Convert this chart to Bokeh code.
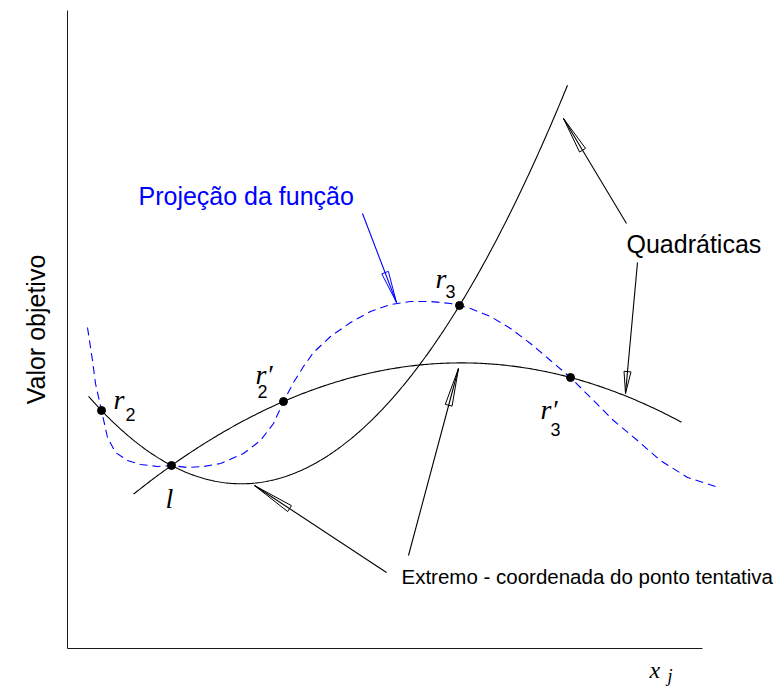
import numpy as np
from bokeh.plotting import figure
from bokeh.models import Range1d, ColumnDataSource
from bokeh.core.properties import value
from bokeh.embed import file_html
from bokeh.resources import INLINE

# Trial points (abscissa x_j, objective value), arbitrary units
point_names = ["r2", "l", "r3", "r2p", "r3p"]
point_x = [34, 104, 392, 216, 503]
point_y = [238, 183, 343, 247, 271]

# Each quadratic passes through three trial points and is drawn over a span
quad_a_points = ["r2", "l", "r3"]
quad_a_span = (21, 500)
quad_b_points = ["l", "r2p", "r3p"]
quad_b_span = (66, 614)

# Projection of the objective function (dashed curve)
proj_x = [20, 25, 28, 34, 40, 48, 60, 73, 90, 104, 120, 136, 153, 176, 193,
          206, 216, 226, 236, 246, 263, 283, 303, 323, 343, 363, 383, 392,
          403, 423, 443, 463, 483, 503, 523, 546, 570, 593, 620, 651]
proj_y = [321, 288, 265, 238, 211, 196, 188, 184, 182, 183, 181, 182, 185,
          195, 208, 225, 247, 266, 282, 296, 312, 326, 337, 344, 347, 347,
          345, 343, 340, 332, 320, 305, 288, 271, 251, 228, 208, 188, 171, 161]

# Axes extent: x axis length and y axis height
x_axis_end = 635
y_axis_top = 638

# Point labels: main symbol, subscript, and screen offsets (px) from the point
label_names = ["r2", "r2p", "r3", "r3p", "l"]
label_main = ["r", "r\u2032", "r", "r\u2032", "l"]
label_sub = ["2", "2", "3", "3", ""]
main_dx = [12, -28, -24, -30, -6]
main_dy = [-11, -27, -27, 32, 33]
sub_dx = [24, -26, -14, -20, 0]
sub_dy = [4, -10, -14, 52, 0]

# Annotation arrows: tail (x, y) -> tip (x, y), head length in px, colour
arrows = [
    (295, 435, 329, 346, 32, "#0000ff"),
    (559, 425, 496, 530, 37, "black"),
    (570, 386, 558, 255, 22, "black"),
    (319, 76, 187, 163, 42, "black"),
    (341, 93, 391, 280, 38, "black"),
]

# Free texts (left, middle) in data units
texts = [
    ("Projeção da função", 71, 452.5, "25px", "#0000ff"),
    ("Quadráticas", 559, 404.5, "25px", "black"),
    ("Extremo - coordenada do ponto tentativa", 334, 72, "20.5px", "black"),
]

pts = dict(zip(point_names, zip(point_x, point_y)))

p = figure(width=777, height=688, output_backend="svg", toolbar_location=None,
           x_range=Range1d(-67, 710), y_range=Range1d(-40, 648),
           min_border=0)
p.axis.visible = False
p.grid.visible = False
p.outline_line_color = None
p.background_fill_color = "white"
p.border_fill_color = "white"

# axis lines
p.segment([0, 0], [0, 0], [x_axis_end, 0], [0, y_axis_top],
          line_color="#1a1a1a", line_width=1)

# axis names
p.text([-32], [y_axis_top / 2], text=["Valor objetivo"], angle=np.pi / 2,
       text_font=value("Liberation Sans"), text_font_size="25px",
       text_color="black", text_align="center", text_baseline="middle")
p.text([582], [-21], text=["x"], text_font=value("Liberation Serif"),
       text_font_style="italic", text_font_size="24px", text_color="black",
       text_baseline="middle", text_align="left")
p.text([600], [-27], text=["j"], text_font=value("Liberation Serif"),
       text_font_style="italic", text_font_size="18px", text_color="black",
       text_baseline="middle", text_align="left")

# dashed projection
p.line(proj_x, proj_y, line_color="#0000ff", line_width=1.1, line_dash="8 5")

# quadratics through their three trial points
for names, (x0, x1) in ((quad_a_points, quad_a_span), (quad_b_points, quad_b_span)):
    xs = [pts[n][0] for n in names]
    ys = [pts[n][1] for n in names]
    coef = np.polyfit(xs, ys, 2)
    xx = np.linspace(x0, x1, 300)
    p.line(xx, np.polyval(coef, xx), line_color="black", line_width=1.1)

# arrows: shaft plus long narrow hollow head
for tx, ty, hx, hy, hl, col in arrows:
    d = np.array([hx - tx, hy - ty], dtype=float)
    u = d / np.hypot(*d)
    n = np.array([-u[1], u[0]])
    base = np.array([hx, hy]) - u * hl
    w = 3.5
    p.patch([hx, base[0] + n[0] * w, base[0] - n[0] * w],
            [hy, base[1] + n[1] * w, base[1] - n[1] * w],
            fill_color="white", line_color=col, line_width=1)
    p.segment(tx, ty, hx, hy, line_color=col, line_width=1.1)

# trial points
p.scatter(point_x, point_y, size=8, color="black")

# point labels
lab_src = ColumnDataSource(dict(
    x=[pts[n][0] for n in label_names], y=[pts[n][1] for n in label_names],
    main=label_main, sub=label_sub, mdx=main_dx, mdy=main_dy,
    sdx=sub_dx, sdy=sub_dy))
p.text(x="x", y="y", text="main", x_offset="mdx", y_offset="mdy", source=lab_src,
       text_font=value("Liberation Serif"), text_font_style="italic",
       text_font_size="28px", text_color="black", text_baseline="middle",
       text_align="left")
p.text(x="x", y="y", text="sub", x_offset="sdx", y_offset="sdy", source=lab_src,
       text_font=value("Liberation Sans"), text_font_size="18px",
       text_color="black", text_baseline="middle", text_align="left")

for t, x, y, fs, col in texts:
    p.text([x], [y], text=[t], text_font=value("Liberation Sans"),
           text_font_size=fs, text_color=col, text_baseline="middle",
           text_align="left")

open("out.html", "w").write(file_html(p, INLINE))
